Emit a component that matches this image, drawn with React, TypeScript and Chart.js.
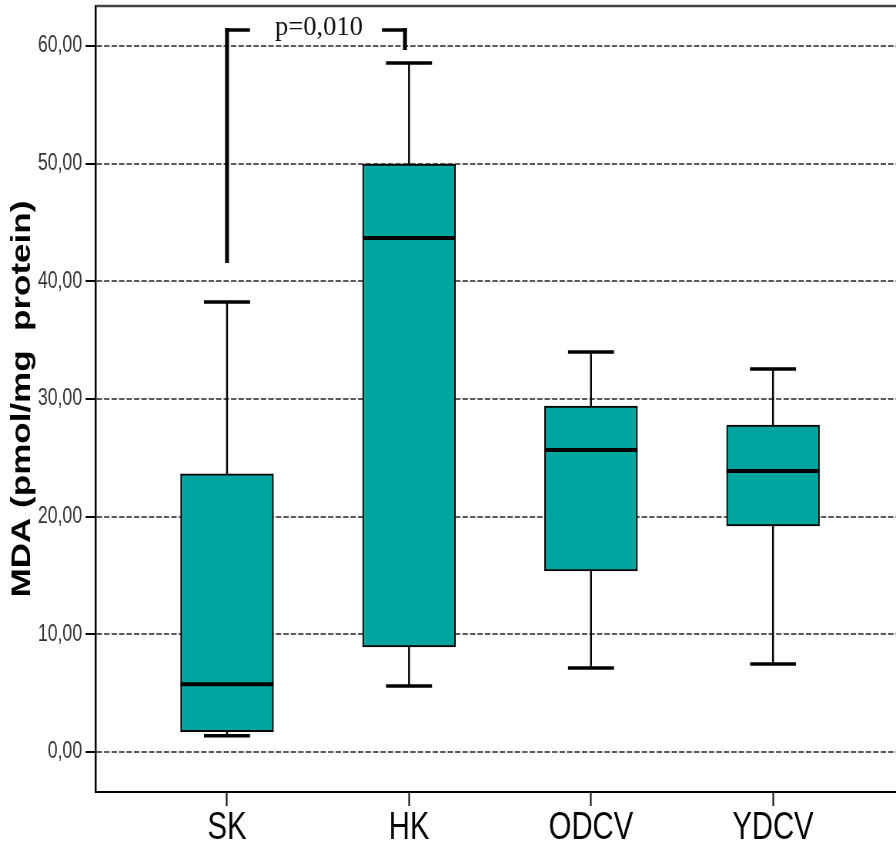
import React, { useEffect, useRef } from 'react';
import { Chart, registerables } from 'chart.js';

Chart.register(...registerables);

// ---- data ----
const categories = ['SK', 'HK', 'ODCV', 'YDCV'];
const whiskerLow = [1.39, 5.61, 7.14, 7.48];
const quartile1 = [1.73, 8.92, 15.38, 19.21];
const medians = [5.75, 43.68, 25.67, 23.88];
const quartile3 = [23.63, 49.97, 29.4, 27.79];
const whiskerHigh = [38.24, 58.55, 33.99, 32.55];
const yTickValues = [0, 10, 20, 30, 40, 50, 60];
const yTickLabels = ['0,00', '10,00', '20,00', '30,00', '40,00', '50,00', '60,00'];
const yAxisTitle = 'MDA (pmol/mg  protein)';

// significance bracket (SK vs HK)
const pLabel = 'p=0,010';
const bracketFrom = 0;
const bracketTo = 1;
const bracketLeftLow = 41.56;
const bracketTopValue = 61.36;
const bracketRightLow = 59.66;
const pLabelBaseline = 60.93;

// ---- layout / style ----
const DISPLAY_W = 896;
const DISPLAY_H = 848;
const CANVAS_W = 1164; // drawn wide, shown horizontally condensed like the reference
const SX = DISPLAY_W / CANVAS_W;
const BOX_W = 120.8;
const CAP_W = 59.8;
const FILL = '#00a59f';
const SANS = "'Liberation Sans', Arial, sans-serif";
const SERIF = "'Liberation Serif', 'Times New Roman', serif";

const boxParts = {
  id: 'boxParts',
  beforeDatasetsDraw(chart: any) {
    const { ctx, scales } = chart;
    const x = scales.x;
    const y = scales.y;
    ctx.save();
    ctx.strokeStyle = '#000';
    categories.forEach((_, i) => {
      const px = x.getPixelForValue(i);
      ctx.lineWidth = 2.5;
      ctx.beginPath();
      ctx.moveTo(px, y.getPixelForValue(quartile3[i]));
      ctx.lineTo(px, y.getPixelForValue(whiskerHigh[i]));
      ctx.moveTo(px, y.getPixelForValue(quartile1[i]));
      ctx.lineTo(px, y.getPixelForValue(whiskerLow[i]));
      ctx.stroke();
      ctx.lineWidth = 3.5;
      ctx.beginPath();
      [whiskerHigh[i], whiskerLow[i]].forEach((v) => {
        const py = y.getPixelForValue(v);
        ctx.moveTo(px - CAP_W / 2, py);
        ctx.lineTo(px + CAP_W / 2, py);
      });
      ctx.stroke();
    });
    ctx.restore();
  },
  afterDatasetsDraw(chart: any) {
    const { ctx, scales } = chart;
    const x = scales.x;
    const y = scales.y;
    ctx.save();
    ctx.strokeStyle = '#000';
    ctx.lineWidth = 4;
    ctx.beginPath();
    categories.forEach((_, i) => {
      const px = x.getPixelForValue(i);
      const py = y.getPixelForValue(medians[i]);
      ctx.moveTo(px - BOX_W / 2, py);
      ctx.lineTo(px + BOX_W / 2, py);
    });
    ctx.stroke();
    ctx.restore();
  },
  afterDraw(chart: any) {
    const { ctx, scales, chartArea } = chart;
    const x = scales.x;
    const y = scales.y;
    ctx.save();
    // top frame line
    ctx.strokeStyle = '#444';
    ctx.lineWidth = 2.5;
    ctx.beginPath();
    ctx.moveTo(chartArea.left, chartArea.top);
    ctx.lineTo(chartArea.right, chartArea.top);
    ctx.stroke();

    // bracket
    const xl = x.getPixelForValue(bracketFrom);
    const xr = x.getPixelForValue(bracketTo - 0.022);
    const yt = y.getPixelForValue(bracketTopValue);
    ctx.strokeStyle = '#000';
    ctx.lineWidth = 5;
    ctx.beginPath();
    ctx.moveTo(xl, y.getPixelForValue(bracketLeftLow));
    ctx.lineTo(xl, yt - 1.75);
    ctx.moveTo(xr, yt - 1.75);
    ctx.lineTo(xr, y.getPixelForValue(bracketRightLow));
    ctx.stroke();
    ctx.lineWidth = 3.5;
    ctx.beginPath();
    ctx.moveTo(xl - 2.5, yt);
    ctx.lineTo(x.getPixelForValue(bracketFrom + 0.126), yt);
    ctx.moveTo(x.getPixelForValue(bracketTo - 0.149), yt);
    ctx.lineTo(xr + 2.5, yt);
    ctx.stroke();

    // p label (not condensed)
    ctx.translate(x.getPixelForValue((bracketFrom + bracketTo) / 2 + 0.005), y.getPixelForValue(pLabelBaseline));
    ctx.scale(1 / SX, 1);
    ctx.font = `26.5px ${SERIF}`;
    ctx.fillStyle = '#111';
    ctx.textAlign = 'center';
    ctx.textBaseline = 'alphabetic';
    ctx.fillText(pLabel, 0, 0);
    ctx.restore();
  },
};

export default function App() {
  const ref = useRef<HTMLCanvasElement | null>(null);

  useEffect(() => {
    if (!ref.current) return;
    const chart = new Chart(ref.current, {
      type: 'bar',
      data: {
        datasets: [
          {
            data: categories.map((_, i) => ({ x: i, y: [quartile1[i], quartile3[i]] })) as any,
            backgroundColor: FILL,
            borderColor: '#000',
            borderWidth: 2,
            borderSkipped: false,
            barThickness: BOX_W,
          },
        ],
      },
      options: {
        animation: false,
        responsive: false,
        devicePixelRatio: 1,
        layout: { padding: { left: 0, right: 0, top: 6, bottom: 0 } },
        plugins: { legend: { display: false }, tooltip: { enabled: false }, title: { display: false } },
        scales: {
          x: {
            type: 'linear',
            min: -0.72,
            max: 3.676,
            offset: false,
            grid: {
              display: true,
              offset: false,
              drawOnChartArea: false,
              drawTicks: true,
              tickLength: 14,
              tickColor: '#000',
              tickWidth: 2,
            },
            border: { display: true, color: '#000', width: 2 },
            afterBuildTicks: (scale: any) => {
              scale.ticks = categories.map((_, i) => ({ value: i }));
            },
            afterFit: (scale: any) => {
              scale.height = 56;
              scale.paddingLeft = 0;
              scale.paddingRight = 0;
              scale.paddingTop = 0;
              scale.paddingBottom = 0;
            },
            ticks: {
              autoSkip: false,
              maxRotation: 0,
              minRotation: 0,
              padding: 0,
              color: '#000',
              font: { family: SANS, size: 38 },
              callback: (value: any) => categories[Math.round(Number(value))] ?? '',
            },
          },
          y: {
            type: 'linear',
            min: -3.4,
            max: 63.4,
            grid: {
              display: true,
              color: '#5a5a5a',
              lineWidth: 2,
              drawTicks: true,
              tickLength: 13.5,
              tickColor: '#000',
              tickWidth: 2,
              tickBorderDash: [],
            },
            border: { display: true, color: '#000', width: 2.5, dash: [7, 2.7] },
            afterBuildTicks: (scale: any) => {
              scale.ticks = yTickValues.map((v) => ({ value: v }));
            },
            afterFit: (scale: any) => {
              scale.width = 124.7;
              scale.paddingTop = 0;
              scale.paddingBottom = 0;
              scale.paddingLeft = 0;
              scale.paddingRight = 0;
            },
            ticks: {
              autoSkip: false,
              padding: 4.5,
              color: '#333',
              font: { family: SANS, size: 23 },
              callback: (value: any) => {
                const idx = yTickValues.indexOf(Number(value));
                return idx >= 0 ? yTickLabels[idx] : '';
              },
            },
            title: {
              display: true,
              text: yAxisTitle,
              color: '#000',
              font: { family: SANS, size: 35, weight: 'bold' },
              padding: { top: 8, bottom: 0 },
            },
          },
        },
      } as any,
      plugins: [boxParts],
    });
    return () => chart.destroy();
  }, []);

  return (
    <div style={{ position: 'absolute', left: 0, top: 0, width: DISPLAY_W, height: DISPLAY_H, background: '#fff' }}>
      <canvas
        ref={ref}
        width={CANVAS_W}
        height={DISPLAY_H}
        style={{ width: `${DISPLAY_W}px`, height: `${DISPLAY_H}px`, display: 'block' }}
      />
    </div>
  );
}
